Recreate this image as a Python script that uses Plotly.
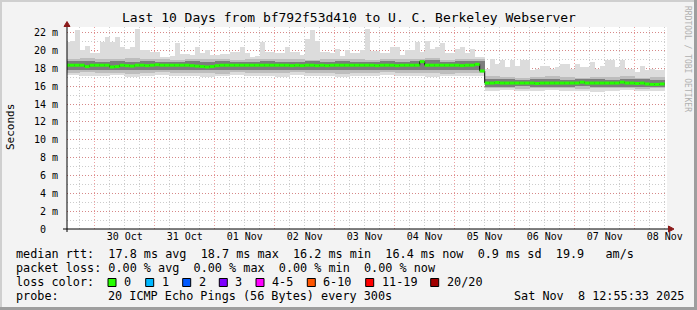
import plotly.graph_objects as go
import pandas as pd

# ---------------- data ----------------
t_start = "2025-10-29 12:55:33"
t_end = "2025-11-08 12:55:33"

# 2-hour bins starting 2025-10-29 12:00 (120 bins)
bin2_first = "2025-10-29 12:00"
median_rtt = [
    18.35, 18.35, 18.35, 18.35, 18.2, 18.35, 18.35, 18.35, 18.35, 18.15,
    18.2, 18.35, 18.3, 18.25, 18.35, 18.35, 18.3, 18.35, 18.4, 18.35,
    18.35, 18.35, 18.35, 18.35, 18.35, 18.3, 18.25, 18.2, 18.15, 18.2,
    18.3, 18.35, 18.35, 18.35, 18.35, 18.35, 18.35, 18.35, 18.35, 18.35,
    18.35, 18.35, 18.35, 18.35, 18.35, 18.3, 18.35, 18.3, 18.35, 18.35,
    18.3, 18.35, 18.3, 18.35, 18.35, 18.35, 18.35, 18.35, 18.35, 18.35,
    18.35, 18.35, 18.3, 18.35, 18.35, 18.35, 18.3, 18.35, 18.35, 18.35,
    18.35, 18.75, 18.35, 18.35, 18.35, 18.35, 18.35, 18.35, 18.35, 18.3,
    18.35, 18.35, 18.45, 17.7, 16.35, 16.35, 16.4, 16.35, 16.35, 16.35,
    16.35, 16.35, 16.35, 16.35, 16.3, 16.35, 16.35, 16.35, 16.35, 16.35,
    16.35, 16.35, 16.35, 16.45, 16.35, 16.35, 16.35, 16.35, 16.35, 16.35,
    16.35, 16.45, 16.35, 16.35, 16.3, 16.35, 16.25, 16.2, 16.2, 16.25,
]
ping_max = [
    20.9, 21.1, 22.3, 20.0, 20.5, 19.7, 19.7, 20.9, 21.5, 20.9,
    21.5, 20.4, 20.2, 20.4, 22.4, 20.0, 20.0, 19.8, 19.8, 19.3,
    19.3, 19.4, 20.8, 19.6, 19.6, 19.5, 20.4, 19.7, 20.0, 19.5,
    19.5, 19.6, 19.6, 19.8, 19.8, 20.4, 19.7, 19.3, 19.4, 21.0,
    19.8, 19.8, 19.7, 19.7, 20.4, 19.8, 19.8, 19.5, 21.3, 22.3,
    21.1, 19.8, 19.8, 19.7, 20.2, 19.4, 20.0, 19.7, 19.7, 20.0,
    22.4, 19.9, 19.9, 19.7, 19.7, 20.4, 20.4, 19.5, 20.0, 20.0,
    21.0, 19.8, 21.1, 20.2, 20.4, 20.8, 19.7, 19.7, 20.2, 20.4,
    19.7, 20.2, 19.3, 19.3, 17.9, 19.0, 18.5, 18.9, 18.2, 18.9,
    18.3, 18.9, 18.9, 17.8, 17.9, 18.3, 18.3, 17.9, 18.2, 18.5,
    18.5, 17.9, 18.5, 18.2, 18.2, 18.7, 17.9, 18.3, 18.9, 18.9,
    18.2, 18.9, 17.9, 17.9, 17.6, 18.3, 17.8, 17.9, 17.8, 17.8,
]

# 6-hour bins starting 2025-10-29 12:00 (40 bins): smoke band edges
bin6_first = "2025-10-29 12:00"
ping_hi = [19.1, 19.2, 19.0, 19.1, 19.2, 19.0, 19.1, 18.95, 19.0, 19.1,
           19.0, 18.95, 19.1, 19.0, 19.0, 19.1, 18.95, 19.0, 19.1, 19.0,
           18.95, 19.1, 19.0, 19.0, 19.2, 18.95, 19.0, 19.1,
           17.1, 17.0, 16.95, 17.0, 17.1, 17.0, 16.95, 17.0, 17.0, 17.1, 16.95, 17.0]
ping_dhi = [18.8, 18.8, 18.75, 18.8, 18.75, 18.8, 18.75, 18.75, 18.8, 18.75,
            18.8, 18.75, 18.75, 18.8, 18.75, 18.75, 18.8, 18.75, 18.8, 18.75,
            18.75, 18.8, 18.75, 18.8, 18.9, 18.75, 18.8, 18.8,
            16.75, 16.75, 16.7, 16.75, 16.75, 16.7, 16.75, 16.75, 16.7, 16.75, 16.75, 16.7]
ping_dlo = [17.85, 17.85, 17.8, 17.85, 17.85, 17.8, 17.85, 17.85, 17.8, 17.85,
            17.85, 17.85, 17.8, 17.85, 17.85, 17.8, 17.85, 17.85, 17.85, 17.8,
            17.85, 17.85, 17.8, 17.85, 17.85, 17.85, 17.8, 17.85,
            15.95, 15.95, 16.0, 15.95, 15.95, 15.95, 16.0, 15.95, 15.95, 15.9, 15.95, 15.95]
ping_lo = [17.5, 17.6, 17.5, 17.5, 17.4, 17.5, 17.6, 17.5, 17.5, 17.5,
           17.4, 17.6, 17.5, 17.5, 17.5, 17.6, 17.5, 17.5, 17.4, 17.5,
           17.5, 17.6, 17.5, 17.5, 17.5, 17.4, 17.5, 17.5,
           15.8, 15.8, 15.7, 15.8, 15.8, 15.8, 15.7, 15.8, 15.8, 15.8, 15.7, 15.8]
ping_min = [17.2, 17.1, 17.1, 17.2, 17.0, 17.1, 17.2, 17.1, 17.1, 17.0,
            17.1, 17.2, 17.1, 17.1, 17.0, 17.2, 17.1, 17.1, 17.0, 17.1,
            17.1, 17.2, 17.1, 17.1, 17.0, 17.1, 17.1, 17.1,
            15.5, 15.6, 15.5, 15.5, 15.6, 15.5, 15.5, 15.4, 15.5, 15.6, 15.5, 15.5]

y_tickvals = [0, 2, 4, 6, 8, 10, 12, 14, 16, 18, 20, 22]
y_ticktext = ["0\u00a0\u00a0", "2 m", "4 m", "6 m", "8 m", "10 m", "12 m",
              "14 m", "16 m", "18 m", "20 m", "22 m"]

title_text = "Last 10 Days from bf792f53d410 to U. C. Berkeley Webserver"
line_median = ("median rtt:  17.8 ms avg  18.7 ms max  16.2 ms min  "
               "16.4 ms now  0.9 ms sd  19.9   am/s")
line_loss = "packet loss: 0.00 % avg  0.00 % max  0.00 % min  0.00 % now"
loss_labels = ["0", "1", "2", "3", "4-5", "6-10", "11-19", "20/20"]
loss_colors = ["#26ff00", "#00b8ff", "#0059ff", "#7e00ff", "#ff00ff",
               "#ff5500", "#ff0000", "#a10000"]
probe_text = "20 ICMP Echo Pings (56 Bytes) every 300s"
stamp_text = "Sat Nov  8 12:55:33 2025"

# ---------------- layout geometry ----------------
W, H = 697, 310
ML, MR, MT, MB = 67, 30, 27, 81
PW = W - ML - MR
PH = H - MT - MB


def px(x):
    return (x - ML) / PW


def py(y):
    return (H - MB - y) / PH


MONO = "DejaVu Sans Mono"

t2 = pd.date_range(bin2_first, periods=len(median_rtt), freq="2h")
t2c = t2 + pd.Timedelta(hours=1)
t6 = pd.date_range(bin6_first, periods=len(ping_hi), freq="6h")
t6c = t6 + pd.Timedelta(hours=3)
W2 = 2 * 3600 * 1000
W6 = 6 * 3600 * 1000

fig = go.Figure()


def band(xc, width, lo, hi, color):
    fig.add_trace(go.Bar(
        x=xc, base=lo, y=[h - l for h, l in zip(hi, lo)], width=width,
        marker=dict(color=color, line=dict(width=0)),
        hoverinfo="skip", showlegend=False))


band(t2c, W2, median_rtt, ping_max, "#dcdcdc")
band(t6c, W6, ping_min, ping_hi, "#dcdcdc")
band(t6c, W6, ping_lo, ping_hi, "#bdbdbd")
band(t6c, W6, ping_dlo, ping_dhi, "#7d7d7d")

# black stepped median
step_x = list(t2) + [t2[-1] + pd.Timedelta(hours=2)]
step_y = median_rtt + [median_rtt[-1]]
fig.add_trace(go.Scatter(x=step_x, y=step_y, mode="lines", line=dict(color="#000000", width=1, shape="hv"),
                         hoverinfo="skip", showlegend=False))
# green loss-colored median segments
gx, gy = [], []
for t, m in zip(t2, median_rtt):
    gx += [t, t + pd.Timedelta(hours=2), None]
    gy += [m, m, None]
fig.add_trace(go.Scatter(x=gx, y=gy, mode="lines", line=dict(color=loss_colors[0], width=3),
                         hoverinfo="skip", showlegend=False))

shapes = []
# frame
shapes.append(dict(type="line", xref="paper", yref="paper", x0=px(0), x1=px(W), y0=py(1), y1=py(1),
                   line=dict(color="#cfcfcf", width=2)))
shapes.append(dict(type="line", xref="paper", yref="paper", x0=px(1), x1=px(1), y0=py(0), y1=py(H),
                   line=dict(color="#cfcfcf", width=2)))
shapes.append(dict(type="line", xref="paper", yref="paper", x0=px(0), x1=px(W), y0=py(H - 1.5), y1=py(H - 1.5),
                   line=dict(color="#9e9e9e", width=3)))
shapes.append(dict(type="line", xref="paper", yref="paper", x0=px(W - 1.5), x1=px(W - 1.5), y0=py(0), y1=py(H),
                   line=dict(color="#9e9e9e", width=3)))
# axes lines
shapes.append(dict(type="line", xref="paper", yref="paper", x0=px(63), x1=px(669), y0=0, y1=0,
                   line=dict(color="#000000", width=1)))
shapes.append(dict(type="line", xref="paper", yref="paper", x0=0, x1=0, y0=py(232), y1=py(26),
                   line=dict(color="#000000", width=1)))
# arrows
shapes.append(dict(type="path", xref="paper", yref="paper",
                   path=f"M {px(64)} {py(26.5)} L {px(70)} {py(26.5)} L {px(67)} {py(21.5)} Z",
                   line=dict(color="#8b1a1a", width=1), fillcolor="#8b1a1a"))
shapes.append(dict(type="path", xref="paper", yref="paper",
                   path=f"M {px(668.5)} {py(226)} L {px(668.5)} {py(232)} L {px(674)} {py(229)} Z",
                   line=dict(color="#8b1a1a", width=1), fillcolor="#8b1a1a"))

annotations = []
annotations.append(dict(text=title_text, x=px(348.5), y=py(18), xref="paper", yref="paper",
                        xanchor="center", yanchor="middle", showarrow=False,
                        font=dict(family=MONO, size=13, color="#000000")))
annotations.append(dict(text="Seconds", x=px(10), y=py(127), xref="paper", yref="paper",
                        xanchor="center", yanchor="middle", showarrow=False, textangle=-90,
                        font=dict(family=MONO, size=11, color="#000000")))
annotations.append(dict(text="RRDTOOL / TOBI OETIKER", x=px(688), y=py(59), xref="paper", yref="paper",
                        xanchor="center", yanchor="middle", showarrow=False, textangle=90,
                        font=dict(family=MONO, size=8, color="#b0b0b0")))

FS = 11.8
CW = 7.1
X0 = 16


def txt(s, x, y):
    annotations.append(dict(text=s.replace(" ", "\u00a0"), x=px(x), y=py(y), xref="paper", yref="paper",
                            xanchor="left", yanchor="middle", showarrow=False, borderpad=0,
                            font=dict(family=MONO, size=FS, color="#000000")))


txt(line_median, X0 - 1, 254.3)
txt(line_loss, X0 - 1, 268.3)
txt("loss color:", X0 - 1, 282.3)
txt("probe:", X0 - 1, 296)
txt(probe_text, X0 - 1 + 13 * CW, 296)
txt(stamp_text, 512.5, 296)

sq_x = [108, 145.7, 182.7, 219.3, 256, 307.3, 365.7, 430.7]
for lab, col, sx in zip(loss_labels, loss_colors, sq_x):
    shapes.append(dict(type="rect", xref="paper", yref="paper", x0=px(sx), x1=px(sx + 8),
                       y0=py(286.5), y1=py(278.5), fillcolor=col, line=dict(color="#000000", width=1)))
    txt(lab, sx + 15, 282.3)

GRIDDASH = "1px,2px"
fig.update_layout(
    width=W, height=H,
    margin=dict(l=ML, r=MR, t=MT, b=MB, pad=0),
    paper_bgcolor="#f3f3f3", plot_bgcolor="#ffffff",
    barmode="overlay", bargap=0,
    showlegend=False,
    shapes=shapes, annotations=annotations,
    xaxis=dict(
        type="date", range=[t_start, t_end], tick0="2025-10-30", dtick=86400000,
        tickformat="%d %b", ticklabelmode="period", ticks="",
        showgrid=True, gridcolor="rgba(222,80,80,0.55)", griddash=GRIDDASH, gridwidth=1,
        showline=False, zeroline=False, fixedrange=True,
        tickfont=dict(family=MONO, size=10, color="#000000"),
        minor=dict(dtick=21600000, tick0="2025-10-30", showgrid=True,
                   gridcolor="rgba(143,143,143,0.45)", griddash=GRIDDASH, gridwidth=1, ticks=""),
    ),
    yaxis=dict(
        range=[0, 22.63], tickvals=y_tickvals, ticktext=y_ticktext, ticks="",
        showgrid=True, gridcolor="rgba(222,80,80,0.55)", griddash=GRIDDASH, gridwidth=1,
        showline=False, zeroline=False, fixedrange=True, ticklabelstandoff=8,
        tickfont=dict(family=MONO, size=10, color="#000000"),
        minor=dict(dtick=1, showgrid=True, gridcolor="rgba(143,143,143,0.45)",
                   griddash=GRIDDASH, gridwidth=1, ticks=""),
    ),
)

fig.write_html("out.html")
